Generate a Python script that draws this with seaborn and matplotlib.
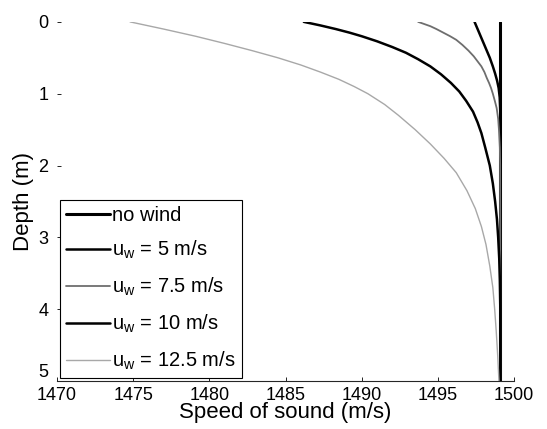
import matplotlib
matplotlib.use("Agg")
import matplotlib.pyplot as plt
import seaborn as sns
import pandas as pd

# sound speed profiles (m/s) vs depth (m)
labels = ["no wind", "u$_w$ = 5 m/s", "u$_w$ = 7.5 m/s", "u$_w$ = 10 m/s", "u$_w$ = 12.5 m/s"]

depth_none = [0, 5]
speed_none = [1499.1, 1499.1]

depth_u5 = [0, 0.05, 0.1, 0.15, 0.2, 0.3, 0.4, 0.5, 0.62, 0.72, 0.82, 0.92, 1.05, 1.2, 1.4, 5]
speed_u5 = [1497.4, 1497.5, 1497.6, 1497.7, 1497.8, 1498.0, 1498.2, 1498.4,
            1498.6, 1498.75, 1498.88, 1498.98, 1499.05, 1499.08, 1499.1, 1499.1]

depth_u75 = [0, 0.03, 0.06, 0.1, 0.15, 0.2, 0.25, 0.32, 0.4, 0.48, 0.55, 0.62,
             0.7, 0.78, 0.85, 0.92, 1.0, 1.1, 1.2, 1.35, 1.5, 1.75, 2.0, 5]
speed_u75 = [1493.7, 1494.1, 1494.5, 1494.9, 1495.35, 1495.8, 1496.2, 1496.6,
             1497.0, 1497.35, 1497.6, 1497.85, 1498.05, 1498.2, 1498.35, 1498.48,
             1498.6, 1498.73, 1498.85, 1498.95, 1499.0, 1499.06, 1499.08, 1499.1]

depth_u10 = [0, 0.05, 0.1, 0.15, 0.2, 0.27, 0.35, 0.43, 0.52, 0.62, 0.73, 0.85,
             0.97, 1.1, 1.25, 1.4, 1.55, 1.75, 2.0, 2.25, 2.5, 2.75, 3.0, 3.3,
             3.6, 4.0, 5]
speed_u10 = [1486.2, 1487.3, 1488.3, 1489.2, 1490.0, 1491.0, 1492.0, 1492.9,
             1493.7, 1494.5, 1495.2, 1495.85, 1496.4, 1496.85, 1497.3, 1497.6,
             1497.85, 1498.1, 1498.4, 1498.6, 1498.75, 1498.87, 1498.95, 1499.02,
             1499.06, 1499.09, 1499.1]

depth_u125 = [0, 0.1, 0.2, 0.3, 0.4, 0.5, 0.6, 0.7, 0.8, 0.9, 1.0, 1.15, 1.3,
              1.5, 1.7, 1.9, 2.1, 2.35, 2.6, 2.85, 3.1, 3.4, 3.7, 4.0, 4.3, 4.65, 5]
speed_u125 = [1474.8, 1477.0, 1479.1, 1481.0, 1482.8, 1484.5, 1486.0, 1487.3,
              1488.5, 1489.5, 1490.4, 1491.5, 1492.4, 1493.5, 1494.5, 1495.4,
              1496.2, 1496.9, 1497.45, 1497.85, 1498.15, 1498.4, 1498.6, 1498.72,
              1498.82, 1498.92, 1499.0]

xticks = [1470, 1475, 1480, 1485, 1490, 1495, 1500]
yticks = [0, 1, 2, 3, 4, 5]

sns.set_style("ticks")
plt.rcParams["font.family"] = ["Liberation Sans", "DejaVu Sans"]
plt.rcParams["mathtext.default"] = "regular"
plt.rcParams["text.color"] = "black"
plt.rcParams["axes.labelcolor"] = "black"
plt.rcParams["xtick.color"] = "black"
plt.rcParams["ytick.color"] = "black"

curves = [
    (depth_none, speed_none),
    (depth_u5, speed_u5),
    (depth_u75, speed_u75),
    (depth_u10, speed_u10),
    (depth_u125, speed_u125),
]
colors = ["black", "black", "#6e6e6e", "black", "#a8a8a8"]
widths = [2.2, 1.8, 1.3, 1.8, 1.0]

fig = plt.figure(figsize=(5.47, 4.29), dpi=100)
ax = fig.add_axes([0.104, 0.112, 0.836, 0.837])

for (d, s), lab, c, lw in zip(curves, labels, colors, widths):
    df = pd.DataFrame({"speed": s, "depth": d})
    sns.lineplot(data=df, x="speed", y="depth", sort=False, estimator=None,
                 color=c, linewidth=lw, label=lab, ax=ax)

ax.set_xlim(1470, 1500)
ax.set_ylim(5, 0)
ax.set_xticks(xticks)
ax.set_yticks(yticks)
ax.set_xlabel("Speed of sound (m/s)", fontsize=16, labelpad=-1)
ax.set_ylabel("Depth (m)", fontsize=16, labelpad=3)
ax.tick_params(axis="both", direction="in", length=3, width=0.6, labelsize=13)
ax.tick_params(axis="y", pad=6)
ax.tick_params(axis="x", pad=4)
# the "5" sits just above the 1470 label, as in the original
ax.get_yticklabels()[-1].set_verticalalignment("bottom")

sns.despine(ax=ax, top=True, right=True, left=True)
ax.spines["bottom"].set_linewidth(0.8)

leg = ax.legend(loc="lower left", fontsize=14.5, frameon=True, fancybox=False,
                edgecolor="black", framealpha=1, borderaxespad=0.15,
                handlelength=2.2, handletextpad=0.1, labelspacing=0.72,
                borderpad=0.3)
leg.get_frame().set_linewidth(0.8)

fig.savefig("out.png", dpi=100)
